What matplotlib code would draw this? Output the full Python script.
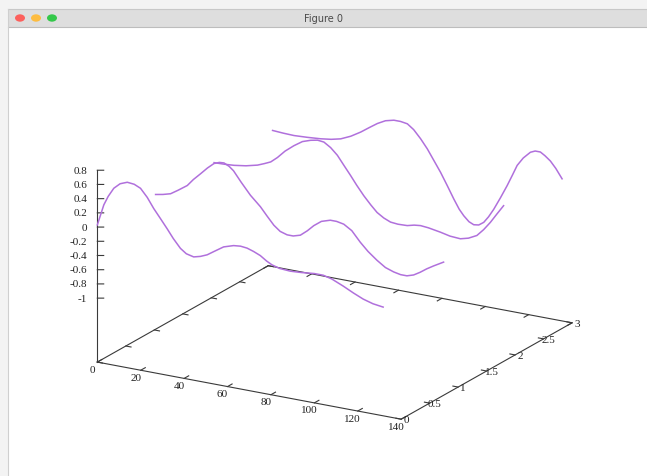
import numpy as np
import matplotlib
matplotlib.use("Agg")
import matplotlib.pyplot as plt
from matplotlib.patches import Rectangle, Circle
from matplotlib.lines import Line2D
from mpl_toolkits.mplot3d import proj3d

# ---------------- data ----------------
curve_y = [0, 1, 2, 3]

x_c0 = [0, 3, 5, 7.6, 10.5, 13.8, 17, 19.9, 23, 26, 29, 32.2, 35, 38.3, 41, 44.4,
        47.5, 50.6, 54, 58.2, 62.8, 66, 69, 72, 75.1, 78, 80.5, 84, 88.9, 94, 100,
        104.1, 108, 113.3, 118, 122.5, 127, 131.7]
z_c0 = [0.03, 0.33, 0.46, 0.59, 0.67, 0.71, 0.70, 0.66, 0.55, 0.41, 0.29, 0.16,
        0.04, -0.08, -0.14, -0.165, -0.14, -0.10, -0.03, 0.055, 0.10, 0.11, 0.10,
        0.07, 0.03, -0.03, -0.07, -0.10, -0.11, -0.10, -0.08, -0.08, -0.11, -0.18,
        -0.25, -0.31, -0.35, -0.37]

x_c1 = [0.6, 4, 7.5, 11, 15.2, 18, 21.3, 24.5, 27.5, 30, 32.1, 34.5, 36.5, 40,
        44.3, 48.9, 52, 55.1, 58, 61.2, 64, 67.3, 70.5, 73.5, 77, 81.1, 84, 87.3,
        91, 94.9, 98.5, 102.6, 106.5, 110.3, 113.5, 116.4, 119.5, 122.5, 125.5,
        128.7, 133.3]
z_c1 = [0.01, 0.03, 0.06, 0.13, 0.22, 0.32, 0.42, 0.52, 0.60, 0.63, 0.635, 0.60,
        0.55, 0.41, 0.25, 0.115, 0.0, -0.11, -0.18, -0.21, -0.21, -0.18, -0.10,
        -0.01, 0.07, 0.11, 0.11, 0.09, 0.02, -0.12, -0.23, -0.33, -0.41, -0.45,
        -0.47, -0.47, -0.44, -0.385, -0.32, -0.26, -0.18]

x_c2 = [1.3, 6, 10.5, 16, 21.3, 24.5, 27.4, 30.5, 34, 38.1, 42, 45.8, 49, 51.9,
        55, 58.1, 61, 64.2, 67, 70.3, 73.5, 76.4, 79.5, 82.6, 86, 90.3, 93.5, 96.4,
        100, 105.6, 110, 114.8, 118.5, 122.4, 125.5, 128.6, 131.5, 134.7]
z_c2 = [0.01, 0.015, 0.025, 0.05, 0.09, 0.13, 0.17, 0.25, 0.36, 0.46, 0.54, 0.58,
        0.60, 0.59, 0.53, 0.44, 0.32, 0.19, 0.07, -0.06, -0.17, -0.26, -0.32,
        -0.36, -0.37, -0.365, -0.34, -0.33, -0.34, -0.37, -0.40, -0.41, -0.38,
        -0.32, -0.22, -0.10, 0.03, 0.17]

x_c3 = [2, 7, 11.9, 18, 24.2, 29, 33.4, 38, 42.6, 46.5, 50.3, 54, 57.9, 61, 64.1,
        67, 70.2, 73.3, 76.3, 79.4, 82.5, 85.5, 88, 90.1, 92.5, 94.7, 97, 99.3,
        101.5, 103.9, 107, 110.1, 112.5, 114.7, 117.5, 120.8, 123, 125.4, 127.5,
        130, 132.5, 135.4]
z_c3 = [0.015, 0.005, 0.0, 0.01, 0.025, 0.045, 0.077, 0.14, 0.225, 0.31, 0.39,
        0.45, 0.48, 0.48, 0.465, 0.40, 0.29, 0.165, 0.02, -0.13, -0.30, -0.47,
        -0.60, -0.68, -0.75, -0.78, -0.77, -0.72, -0.63, -0.51, -0.33, -0.14, 0.02,
        0.17, 0.29, 0.39, 0.42, 0.42, 0.38, 0.32, 0.23, 0.10]

x_ticks = [0, 20, 40, 60, 80, 100, 120, 140]
x_labels = ["0", "20", "40", "60", "80", "100", "120", "140"]
y_ticks = [0, 0.5, 1, 1.5, 2, 2.5, 3]
y_labels = ["0", "0.5", "1", "1.5", "2", "2.5", "3"]
z_ticks = [0.8, 0.6, 0.4, 0.2, 0, -0.2, -0.4, -0.6, -0.8, -1]
z_labels = ["0.8", "0.6", "0.4", "0.2", "0", "-0.2", "-0.4", "-0.6", "-0.8", "-1"]

# ---------------- style / layout ----------------
W, H = 647, 477
X0, X1 = 0, 140
Y0, Y1 = 0, 3
ZMIN, ZMAX = -1.0, 0.8
ZBASE = ZMIN - 0.5 * (ZMAX - ZMIN)   # gnuplot ticslevel 0.5
LINE_COLOR = "#b070dc"
AXIS_COLOR = "#3a3a3a"
FONT = dict(family="Liberation Serif", size=8, color="#222222")

fig = plt.figure(figsize=(W / 100, H / 100), dpi=100)
fig.patch.set_facecolor("white")
ax = fig.add_axes([0, 0, 1, 1], projection="3d", proj_type="ortho")
ax.set_facecolor("none")
ax.view_init(elev=19, azim=-60)
ax.set_box_aspect((351, 342, 203))
ax.set_xlim(X0, X1)
ax.set_ylim(Y0, Y1)
ax.set_zlim(ZBASE, ZMAX)
ax.set_axis_off()

# base frame and z axis
ax.plot([X0, X1, X1, X0, X0], [Y0, Y0, Y1, Y1, Y0], [ZBASE] * 5,
        color=AXIS_COLOR, lw=0.8)
ax.plot([X0, X0], [Y0, Y0], [ZBASE, ZMAX], color=AXIS_COLOR, lw=0.8)

# tick marks
tl_y = 0.08
tl_x = 2.4
for xv in x_ticks:
    ax.plot([xv, xv], [Y0, Y0 + tl_y], [ZBASE, ZBASE], color=AXIS_COLOR, lw=0.8)
    ax.plot([xv, xv], [Y1, Y1 - tl_y], [ZBASE, ZBASE], color=AXIS_COLOR, lw=0.8)
for yv in y_ticks:
    ax.plot([X1, X1 - tl_x], [yv, yv], [ZBASE, ZBASE], color=AXIS_COLOR, lw=0.8)
    ax.plot([X0, X0 + tl_x], [yv, yv], [ZBASE, ZBASE], color=AXIS_COLOR, lw=0.8)
for zv in z_ticks:
    ax.plot([X0, X0 + 2.2], [Y0, Y0 + 0.028], [zv, zv], color=AXIS_COLOR, lw=0.8)

# curves
for yv, xs, zs in zip(curve_y, [x_c0, x_c1, x_c2, x_c3], [z_c0, z_c1, z_c2, z_c3]):
    ax.plot(xs, [yv] * len(xs), zs, color=LINE_COLOR, lw=1.1)

# ---- place the 3D box so its corners land where the reference has them ----
targets = {
    (X0, Y0, ZBASE): (96.7, 363.3),
    (X1, Y0, ZBASE): (401.0, 420.0),
    (X1, Y1, ZBASE): (571.7, 323.3),
    (X0, Y1, ZBASE): (270.0, 266.7),
    (X0, Y0, ZMAX): (96.7, 171.7),
}


def project(pts):
    pts = np.asarray(pts, dtype=float)
    px, py, _ = proj3d.proj_transform(pts[:, 0], pts[:, 1], pts[:, 2], ax.M)
    return ax.transData.transform(np.column_stack([px, py]))


for _ in range(3):
    fig.canvas.draw()
    P = project(list(targets.keys()))
    T = np.array([(tx, H - ty) for tx, ty in targets.values()])
    pc, tc = P.mean(0), T.mean(0)
    s = ((P - pc) * (T - tc)).sum() / ((P - pc) ** 2).sum()
    t = tc - s * pc
    pos = ax.get_position()
    bx, by = pos.x0 * W, pos.y0 * H
    bw, bh = pos.width * W, pos.height * H
    ax.set_position([(s * bx + t[0]) / W, (s * by + t[1]) / H, s * bw / W, s * bh / H])
fig.canvas.draw()

# ---- tick labels as flat text at projected anchor points ----
xa = project([(xv, Y0, ZBASE) for xv in x_ticks])
for (dx, dy), lab in zip(xa, x_labels):
    fig.text((dx - 5) / W, (dy - 7) / H, lab, ha="center", va="center", **FONT)
ya = project([(X1, yv, ZBASE) for yv in y_ticks])
for (dx, dy), lab in zip(ya, y_labels):
    fig.text((dx + 5) / W, (dy - 0.5) / H, lab, ha="center", va="center", **FONT)
za = project([(X0, Y0, zv) for zv in z_ticks])
for (dx, dy), lab in zip(za, z_labels):
    fig.text((dx - 10) / W, dy / H, lab, ha="right", va="center", **FONT)

# ---------------- window chrome ----------------
def fx(x):
    return x / W


def fy(y):
    return 1 - y / H


outer = "#f3f3f3"
fig.patches.append(Rectangle((0, 0), fx(8), 1, transform=fig.transFigure,
                             facecolor=outer, edgecolor="none", zorder=5))
fig.patches.append(Rectangle((0, fy(10)), 1, 10 / H, transform=fig.transFigure,
                             facecolor=outer, edgecolor="none", zorder=5))
fig.patches.append(Rectangle((fx(8), fy(28)), 1, 18 / H, transform=fig.transFigure,
                             facecolor="#dedede", edgecolor="none", zorder=6))
fig.lines.append(Line2D([fx(8), 1], [fy(28), fy(28)], transform=fig.transFigure,
                        color="#bdbdbd", lw=0.8, zorder=7))
fig.lines.append(Line2D([fx(8), 1], [fy(10), fy(10)], transform=fig.transFigure,
                        color="#c8c8c8", lw=0.8, zorder=7))
fig.lines.append(Line2D([fx(8), fx(8)], [0, fy(10)], transform=fig.transFigure,
                        color="#cfcfcf", lw=0.8, zorder=7))
for cx, col in zip([20, 36, 52], ["#fc605c", "#fdbc40", "#34c84a"]):
    fig.patches.append(Circle((fx(cx), fy(19)), 5 / W, transform=fig.transFigure,
                              facecolor=col, edgecolor="none", zorder=8))
fig.text(fx(323), fy(19), "Figure 0", ha="center", va="center", fontsize=7,
         color="#4a4a4a", family="DejaVu Sans", zorder=8)

fig.savefig("out.png", dpi=100)
